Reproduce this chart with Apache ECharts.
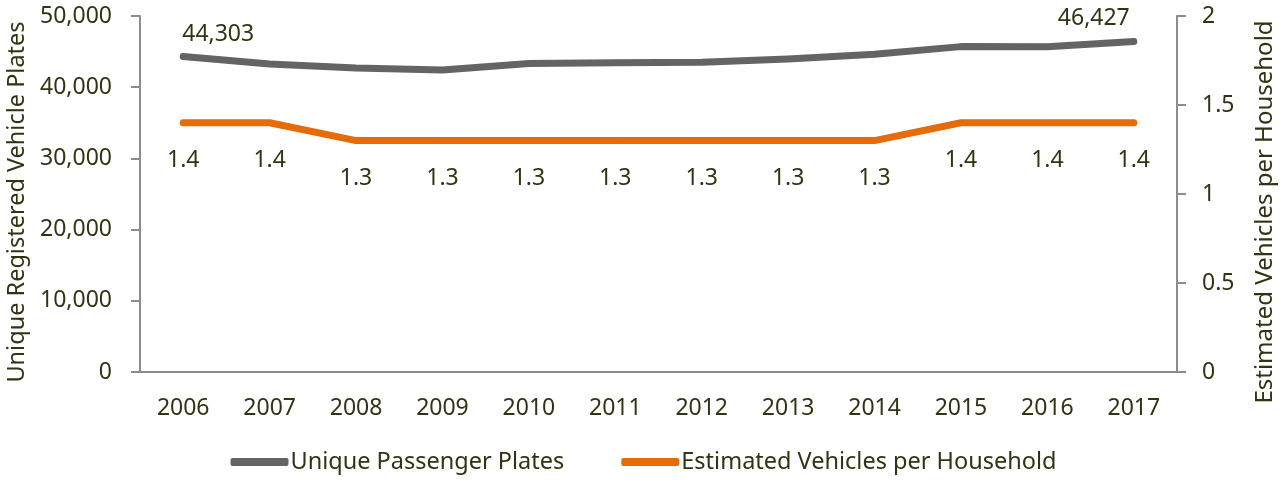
<!DOCTYPE html>
<html>
<head>
<meta charset="utf-8">
<script src="https://cdn.jsdelivr.net/npm/echarts@6/dist/echarts.min.js"></script>
<style>
html, body { margin: 0; padding: 0; background: #fff; }
#chart { width: 1287px; height: 482px; }
</style>
</head>
<body>
<div id="chart"></div>
<script>
// chart data
const years = ['2006', '2007', '2008', '2009', '2010', '2011', '2012', '2013', '2014', '2015', '2016', '2017'];
const plates = [44303, 43250, 42700, 42420, 43330, 43420, 43520, 43960, 44620, 45700, 45680, 46427];
const vehiclesPerHousehold = [1.4, 1.4, 1.3, 1.3, 1.3, 1.3, 1.3, 1.3, 1.3, 1.4, 1.4, 1.4];
const leftTicks = [0, 50000, 10000];
const rightTicks = [0, 2, 0.5];

const textColor = '#333314';
const axisColor = '#8c8c8c';
const font = 'Noto Sans';
const fs = 23;

const chart = echarts.init(document.getElementById('chart'));

const axisStyle = {
    axisLine: { show: true, lineStyle: { color: axisColor, width: 2 } },
    axisTick: { show: true, length: 9, lineStyle: { color: axisColor, width: 2 } },
    splitLine: { show: false },
    nameLocation: 'middle',
    nameRotate: 90
};

// only first and last plates values get a label, nudged inward
const plateData = plates.map((v, i) => {
    if (i === 0) return { value: v, label: { show: true, offset: [35, 0] } };
    if (i === plates.length - 1) return { value: v, label: { show: true, offset: [-40, 0] } };
    return v;
});

chart.setOption({
    animation: false,
    backgroundColor: '#ffffff',
    textStyle: { fontFamily: font, color: textColor },
    grid: { left: 140, width: 1037, top: 16, height: 356, outerBoundsMode: 'none' },
    legend: {
        bottom: 3,
        left: 'center',
        itemWidth: 58,
        itemHeight: 8,
        itemGap: 57,
        textStyle: { color: textColor, fontSize: 23.5, fontFamily: font, padding: [0, 0, 0, -3] },
        data: [
            { name: 'Unique Passenger Plates', icon: 'roundRect' },
            { name: 'Estimated Vehicles per Household', icon: 'roundRect' }
        ]
    },
    xAxis: {
        type: 'category',
        data: years,
        boundaryGap: true,
        axisLine: { lineStyle: { color: axisColor, width: 2 } },
        axisTick: { length: 9, lineStyle: { color: axisColor, width: 2 } },
        axisLabel: { color: textColor, fontSize: fs, margin: 25, fontFamily: font }
    },
    yAxis: [
        Object.assign({}, axisStyle, {
            type: 'value',
            min: leftTicks[0],
            max: leftTicks[1],
            interval: leftTicks[2],
            name: 'Unique Registered Vehicle Plates',
            nameGap: 106,
            nameTextStyle: { color: textColor, fontSize: 23.5, fontFamily: font, padding: [0, 16, 0, 0] },
            axisLabel: {
                color: textColor, fontSize: fs, margin: 28, fontFamily: font,
                formatter: v => v.toLocaleString('en-US')
            }
        }),
        Object.assign({}, axisStyle, {
            type: 'value',
            position: 'right',
            min: rightTicks[0],
            max: rightTicks[1],
            interval: rightTicks[2],
            name: 'Estimated Vehicles per Household',
            nameGap: 76,
            nameTextStyle: { color: textColor, fontSize: 24, fontFamily: font, padding: [0, 36, 0, 0] },
            axisLabel: { color: textColor, fontSize: fs, margin: 25, fontFamily: font }
        })
    ],
    series: [
        {
            name: 'Unique Passenger Plates',
            type: 'line',
            yAxisIndex: 0,
            data: plateData,
            symbol: 'circle',
            symbolSize: 6,
            lineStyle: { color: '#646464', width: 7, cap: 'round', join: 'round' },
            itemStyle: { color: '#646464' },
            label: {
                show: false,
                position: 'top',
                distance: 8,
                color: textColor,
                fontSize: fs,
                fontFamily: font,
                formatter: p => p.value.toLocaleString('en-US')
            }
        },
        {
            name: 'Estimated Vehicles per Household',
            type: 'line',
            yAxisIndex: 1,
            data: vehiclesPerHousehold,
            symbol: 'circle',
            symbolSize: 6,
            lineStyle: { color: '#e46c0a', width: 7, cap: 'round', join: 'round' },
            itemStyle: { color: '#e46c0a' },
            label: {
                show: true,
                position: 'bottom',
                distance: 23,
                color: textColor,
                fontSize: fs,
                fontFamily: font,
                formatter: p => p.value.toFixed(1)
            }
        }
    ]
});
</script>
</body>
</html>
